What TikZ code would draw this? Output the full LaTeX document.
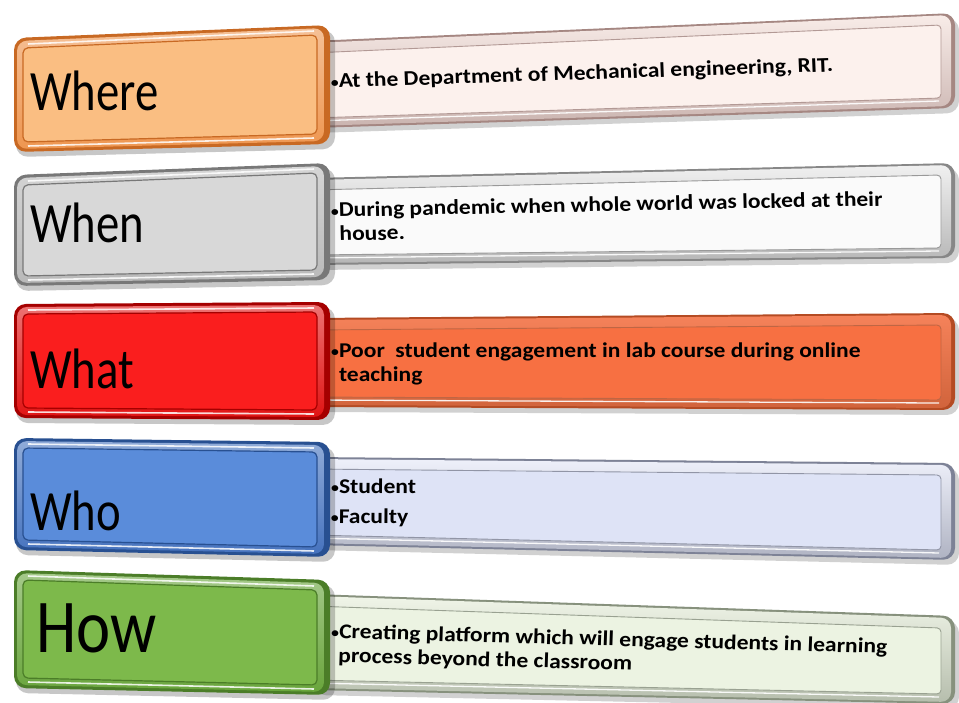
\documentclass[tikz,border=0pt]{standalone}
\usepackage{fontspec}
\setmainfont{Carlito}
\usetikzlibrary{calc}

\definecolor{orEdge}{RGB}{200,105,35}
\definecolor{orBand}{RGB}{238,150,80}
\definecolor{orFace}{RGB}{250,190,130}
\definecolor{aEdge}{RGB}{165,135,130}
\definecolor{aBand}{RGB}{248,236,232}
\definecolor{aFace}{RGB}{252,241,237}

\definecolor{gyEdge}{RGB}{120,120,120}
\definecolor{gyBand}{RGB}{185,185,185}
\definecolor{gyFace}{RGB}{216,216,216}
\definecolor{bEdge}{RGB}{135,135,135}
\definecolor{bBand}{RGB}{240,240,240}
\definecolor{bFace}{RGB}{250,250,250}

\definecolor{rdEdge}{RGB}{165,0,0}
\definecolor{rdBand}{RGB}{225,20,20}
\definecolor{rdFace}{RGB}{250,30,30}
\definecolor{cEdge}{RGB}{180,75,35}
\definecolor{cBand}{RGB}{245,130,90}
\definecolor{cFace}{RGB}{247,112,66}

\definecolor{blEdge}{RGB}{40,80,145}
\definecolor{blBand}{RGB}{70,115,190}
\definecolor{blFace}{RGB}{90,140,218}
\definecolor{dEdge}{RGB}{125,130,150}
\definecolor{dBand}{RGB}{238,240,250}
\definecolor{dFace}{RGB}{222,227,246}

\definecolor{gnEdge}{RGB}{75,125,40}
\definecolor{gnBand}{RGB}{105,165,60}
\definecolor{gnFace}{RGB}{125,185,75}
\definecolor{eEdge}{RGB}{135,145,125}
\definecolor{eBand}{RGB}{240,245,232}
\definecolor{eFace}{RGB}{236,243,226}

\newcommand{\bul}{\makebox[7pt][l]{\raisebox{0.5pt}{\fontsize{14}{14}\selectfont •}}}
\newcommand{\hang}{\hspace*{7pt}}

\tikzset{
  lbl/.style={anchor=base west, inner sep=0pt, font=\fontsize{57}{60}\selectfont, xscale=.82, text=black},
  biglbl/.style={anchor=base west, inner sep=0pt, font=\fontsize{76}{80}\selectfont, xscale=.85, text=black},
  body/.style={anchor=base west, inner sep=0pt, font=\bfseries\fontsize{21}{24}\selectfont, xscale=1.12, text=black},
}

% left (coloured) bevelled box: TL, TR, BR, BL, edge, band, face
\newcommand{\lboxx}[7]{%
  \fill[black,opacity=.22,rounded corners=12] ($(#1)+(2,5)$) -- ($(#2)+(5,5)$) -- ($(#3)+(5,5)$) -- ($(#4)+(2,5)$) -- cycle;
  \fill[#5,rounded corners=12] (#1) -- (#2) -- (#3) -- (#4) -- cycle;
  \shade[top color=#6!60!white, bottom color=#6, rounded corners=10] ($(#1)+(3,3)$) -- ($(#2)+(-6,3)$) -- ($(#3)+(-6,-3)$) -- ($(#4)+(3,-3)$) -- cycle;
  \fill[#7,rounded corners=5] ($(#1)+(9,10)$) -- ($(#2)+(-13,10)$) -- ($(#3)+(-13,-10)$) -- ($(#4)+(9,-10)$) -- cycle;
  \draw[#5,line width=1.2pt,rounded corners=5] ($(#1)+(9,10)$) -- ($(#2)+(-13,10)$) -- ($(#3)+(-13,-10)$) -- ($(#4)+(9,-10)$) -- cycle;
  \draw[white,opacity=.85,line width=1.6pt] ($(#1)+(14,6)$) -- ($(#2)+(-16,6)$);
  \draw[white,opacity=.85,line width=1.6pt] ($(#4)+(14,-6)$) -- ($(#3)+(-16,-6)$);
}

% right (text) bevelled box
\newcommand{\rboxx}[7]{%
  \fill[black,opacity=.18,rounded corners=12] ($(#1)+(2,5)$) -- ($(#2)+(4,5)$) -- ($(#3)+(4,5)$) -- ($(#4)+(2,5)$) -- cycle;
  \fill[#5,rounded corners=12] (#1) -- (#2) -- (#3) -- (#4) -- cycle;
  \shade[top color=#6, bottom color=#5!55!#6, rounded corners=10] ($(#1)+(0,2)$) -- ($(#2)+(-4,2)$) -- ($(#3)+(-4,-2)$) -- ($(#4)+(0,-2)$) -- cycle;
  \fill[#7,rounded corners=4] ($(#1)+(0,12)$) -- ($(#2)+(-14,12)$) -- ($(#3)+(-14,-10)$) -- ($(#4)+(0,-10)$) -- cycle;
  \draw[#5!85,line width=.9pt,rounded corners=4] ($(#1)+(0,12)$) -- ($(#2)+(-14,12)$) -- ($(#3)+(-14,-10)$) -- ($(#4)+(0,-10)$);
  \draw[white,opacity=.9,line width=1.3pt] ($(#4)+(0,-7)$) -- ($(#3)+(-16,-7)$);
}

\begin{document}
\begin{tikzpicture}[x=1pt,y=-1pt]
\useasboundingbox (0,0) rectangle (959,702);
\fill[white] (0,0) rectangle (959,702);

% ---------- right boxes (behind) ----------
\rboxx{312,41}{955,13}{955,108}{312,128}{aEdge}{aBand}{aFace}
\rboxx{312,178}{955,163}{955,258}{312,265}{bEdge}{bBand}{bFace}
\rboxx{312,318}{955,313}{955,410}{312,407}{cEdge}{cBand}{cFace}
\rboxx{312,457}{955,463}{955,560}{312,545}{dEdge}{dBand}{dFace}
\rboxx{312,594}{955,616}{955,704}{312,690}{eEdge}{eBand}{eFace}

% ---------- left boxes ----------
\lboxx{14,38}{330,25}{330,144}{14,152}{orEdge}{orBand}{orFace}
\lboxx{14,175}{330,163}{330,280}{14,286}{gyEdge}{gyBand}{gyFace}
\lboxx{14,304}{330,302}{330,420}{14,418}{rdEdge}{rdBand}{rdFace}
\lboxx{14,438}{330,442}{330,557}{14,550}{blEdge}{blBand}{blFace}
\lboxx{14,570}{330,580}{330,695}{14,688}{gnEdge}{gnBand}{gnFace}

% ---------- labels ----------
\node[lbl] (where) at (30,110) {Where};
\node[lbl] (when) at (30,242) {When};
\node[lbl] (what) at (30,388) {What};
\node[lbl] (who) at (30,530) {Who};
\node[biglbl] (how) at (36,652) {How};

% ---------- body texts ----------
\node[body,rotate=2.1] (t1) at (331,88) {\bul At the Department of Mechanical engineering, RIT.};
\node[body,rotate=1.3] (t2) at (331,217) {\begin{tabular}[t]{@{}l@{}}\bul During pandemic when whole world was locked at their\\ \hang house.\end{tabular}};
\node[body] (t3) at (331,357) {\begin{tabular}[t]{@{}l@{}}\bul Poor\ \ student engagement in lab course during online\\ \hang teaching\end{tabular}};
\node[body,rotate=-0.4] (t4) at (331,493) {\begin{tabular}[t]{@{}l@{}}\bul Student\\[6pt] \bul Faculty\end{tabular}};
\node[body,rotate=-1.8] (t5) at (331,638) {\begin{tabular}[t]{@{}l@{}}\bul Creating platform which will engage students in learning\\ \hang process beyond the classroom\end{tabular}};
\end{tikzpicture}
\end{document}
